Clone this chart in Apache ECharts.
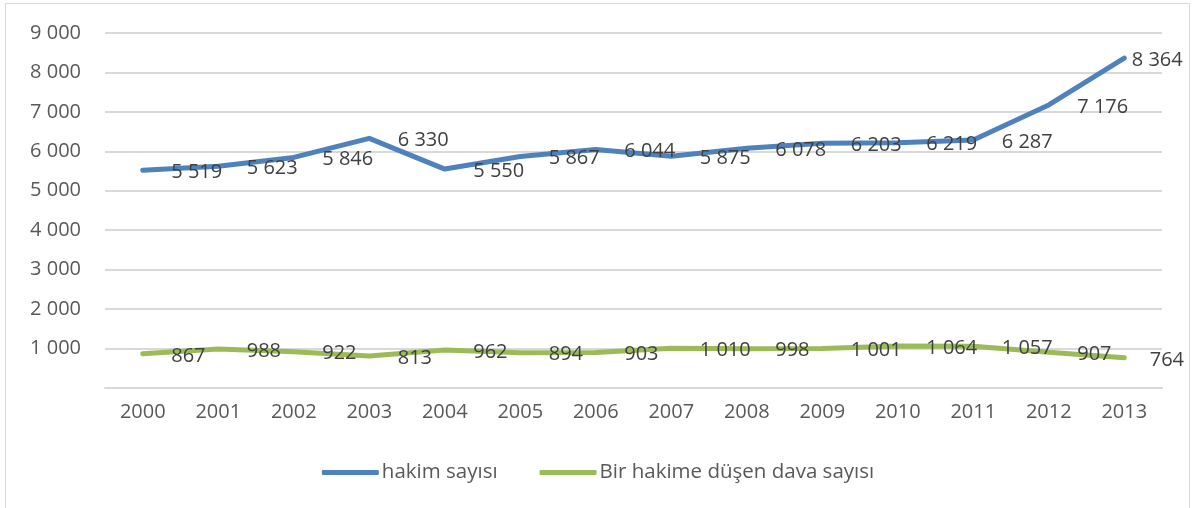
<!DOCTYPE html>
<html>
<head>
<meta charset="utf-8">
<script src="https://cdn.jsdelivr.net/npm/echarts@6/dist/echarts.min.js"></script>
<style>
  html, body { margin: 0; padding: 0; background: #fff; }
  #main { width: 1196px; height: 508px; }
</style>
</head>
<body>
<div id="main"></div>
<script>
// veriler
var years = ['2000', '2001', '2002', '2003', '2004', '2005', '2006', '2007', '2008', '2009', '2010', '2011', '2012', '2013'];
var hakimSayisi = [5519, 5623, 5846, 6330, 5550, 5867, 6044, 5875, 6078, 6203, 6219, 6287, 7176, 8364];
var davaSayisi = [867, 988, 922, 813, 962, 894, 903, 1010, 998, 1001, 1064, 1057, 907, 764];
var seriesNames = ['hakim sayısı', 'Bir hakime düşen dava sayısı'];

function fmt(v) {
    // 8364 -> "8 364"
    return String(v).replace(/\B(?=(\d{3})+(?!\d))/g, ' ');
}

var myChart = echarts.init(document.getElementById('main'));

var labelStyle = {
    show: true,
    position: 'right',
    distance: 28,
    offset: [0, 2],
    color: '#404040',
    fontFamily: 'Open Sans',
    fontSize: 20,
    formatter: function (p) { return fmt(p.value); }
};

// son nokta etiketi grafiğin kenarına sıkışmış
var blueData = hakimSayisi.map(function (v, i) {
    if (i === hakimSayisi.length - 1) {
        return { value: v, label: { distance: 7 } };
    }
    return v;
});
var greenData = davaSayisi.map(function (v, i) {
    if (i === davaSayisi.length - 1) {
        return { value: v, label: { distance: 25 } };
    }
    return v;
});

var option = {
    animation: false,
    backgroundColor: '#fff',
    textStyle: { fontFamily: 'Open Sans' },
    graphic: [{
        type: 'rect',
        shape: { x: 5.5, y: 3.5, width: 1184, height: 520 },
        style: { fill: 'none', stroke: '#d9d9d9', lineWidth: 1 },
        silent: true
    }],
    grid: {
        left: 105,
        right: 34,
        top: 33,
        bottom: 120
    },
    legend: {
        bottom: 20,
        left: 'center',
        itemWidth: 57,
        itemHeight: 5,
        itemGap: 42,
        icon: 'roundRect',
        textStyle: {
            color: '#595959',
            fontSize: 20.5,
            fontFamily: 'Open Sans',
            padding: [0, 0, 0, -2]
        },
        data: seriesNames
    },
    xAxis: {
        type: 'category',
        data: years,
        boundaryGap: true,
        axisLine: { lineStyle: { color: '#d9d9d9', width: 2 } },
        axisTick: { show: false },
        axisLabel: {
            color: '#595959',
            fontSize: 20,
            margin: 14
        }
    },
    yAxis: {
        type: 'value',
        min: 0,
        max: 9000,
        interval: 1000,
        axisLine: { show: false },
        axisTick: { show: false },
        splitLine: { lineStyle: { color: '#d9d9d9', width: 2 } },
        axisLabel: {
            color: '#595959',
            fontSize: 20,
            margin: 24,
            formatter: function (v) { return v === 0 ? '' : fmt(v); }
        }
    },
    series: [{
        name: seriesNames[0],
        type: 'line',
        data: blueData,
        symbol: 'circle',
        symbolSize: 1,
        showSymbol: true,
        showAllSymbol: true,
        color: '#4f81bd',
        lineStyle: { width: 5, cap: 'round', join: 'round' },
        label: labelStyle
    }, {
        name: seriesNames[1],
        type: 'line',
        data: greenData,
        symbol: 'circle',
        symbolSize: 1,
        showSymbol: true,
        showAllSymbol: true,
        color: '#9bbb59',
        lineStyle: { width: 5, cap: 'round', join: 'round' },
        label: labelStyle
    }]
};

myChart.setOption(option);
</script>
</body>
</html>
